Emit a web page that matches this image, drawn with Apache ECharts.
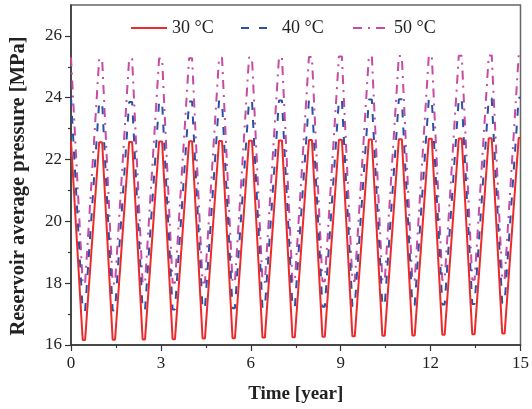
<!DOCTYPE html>
<html>
<head>
<meta charset="utf-8">
<script src="https://cdn.jsdelivr.net/npm/echarts/dist/echarts.min.js"></script>
<style>
  html, body { margin: 0; padding: 0; background: #fff; }
  #chart { width: 532px; height: 409px; }
</style>
</head>
<body>
<div id="chart"></div>
<script>
// Time knots [year]: start of the run, then per cycle the low plateau and the high plateau
const years = [
  0, 0.04,
  0.39, 0.47, 0.94, 1.04,
  1.39, 1.47, 1.94, 2.04,
  2.39, 2.47, 2.94, 3.04,
  3.39, 3.47, 3.94, 4.04,
  4.39, 4.47, 4.94, 5.04,
  5.39, 5.47, 5.94, 6.04,
  6.39, 6.47, 6.94, 7.04,
  7.39, 7.47, 7.94, 8.04,
  8.39, 8.47, 8.94, 9.04,
  9.39, 9.47, 9.94, 10.04,
  10.39, 10.47, 10.94, 11.04,
  11.39, 11.47, 11.94, 12.04,
  12.39, 12.47, 12.94, 13.04,
  13.39, 13.47, 13.94, 14.04,
  14.39, 14.47, 14.94, 15.00
];

// Reservoir average pressure [MPa] at 30 °C
const p30 = [
  22.60, 22.60,
  16.16, 16.16, 22.56, 22.56,
  16.17, 16.17, 22.57, 22.57,
  16.18, 16.18, 22.58, 22.58,
  16.19, 16.19, 22.59, 22.59,
  16.21, 16.21, 22.60, 22.60,
  16.22, 16.22, 22.61, 22.61,
  16.24, 16.24, 22.62, 22.62,
  16.25, 16.25, 22.63, 22.63,
  16.27, 16.27, 22.64, 22.64,
  16.28, 16.28, 22.65, 22.65,
  16.30, 16.30, 22.66, 22.66,
  16.31, 16.31, 22.67, 22.67,
  16.33, 16.33, 22.68, 22.68,
  16.35, 16.35, 22.69, 22.69,
  16.37, 16.37, 22.70, 22.70
];

// Reservoir average pressure [MPa] at 40 °C
const p40 = [
  24.00, 24.00,
  17.10, 17.10, 23.85, 23.85,
  17.12, 17.12, 23.86, 23.86,
  17.13, 17.13, 23.87, 23.87,
  17.15, 17.15, 23.88, 23.88,
  17.17, 17.17, 23.89, 23.89,
  17.19, 17.19, 23.90, 23.90,
  17.20, 17.20, 23.91, 23.91,
  17.22, 17.22, 23.92, 23.92,
  17.24, 17.24, 23.93, 23.93,
  17.26, 17.26, 23.94, 23.94,
  17.28, 17.28, 23.95, 23.95,
  17.29, 17.29, 23.96, 23.96,
  17.31, 17.31, 23.97, 23.97,
  17.33, 17.33, 23.98, 23.98,
  17.35, 17.35, 24.00, 24.00
];

// Reservoir average pressure [MPa] at 50 °C
const p50 = [
  25.30, 25.30,
  17.98, 17.98, 25.25, 25.25,
  17.99, 17.99, 25.26, 25.26,
  18.00, 18.00, 25.27, 25.27,
  18.01, 18.01, 25.28, 25.28,
  18.02, 18.02, 25.29, 25.29,
  18.03, 18.03, 25.30, 25.30,
  18.04, 18.04, 25.31, 25.31,
  18.05, 18.05, 25.32, 25.32,
  18.06, 18.06, 25.33, 25.33,
  18.07, 18.07, 25.34, 25.34,
  18.08, 18.08, 25.35, 25.35,
  18.09, 18.09, 25.36, 25.36,
  18.10, 18.10, 25.36, 25.36,
  18.11, 18.11, 25.37, 25.37,
  18.12, 18.12, 25.38, 25.38
];

const seriesNames = ['30 °C', '40 °C', '50 °C'];
const yMajorTicks = [16, 18, 20, 22, 24, 26];
const yMinorTicks = [17, 19, 21, 23, 25];

const FONT = "'Liberation Serif', 'Times New Roman', serif";
const AXIS_COLOR = '#333';

function pairs(xs, ys) {
  return xs.map((x, i) => [x, ys[i]]);
}

const chart = echarts.init(document.getElementById('chart'), null, { renderer: 'canvas' });

// Legend entries show only the line sample (no marker in the middle)
const legendBase = {
  top: 19,
  itemWidth: 36,
  itemHeight: 18,
  itemGap: 0,
  padding: 0,
  itemStyle: { opacity: 0 },
  textStyle: { fontFamily: FONT, fontSize: 18, color: '#222' }
};

chart.setOption({
  animation: false,
  backgroundColor: '#fff',
  grid: {
    left: 68, right: 10, top: 5, bottom: 62,
    show: true, borderColor: '#666', borderWidth: 1.5, backgroundColor: 'transparent'
  },
  legend: [
    Object.assign({}, legendBase, { left: 130, data: [seriesNames[0]] }),
    Object.assign({}, legendBase, { left: 240, data: [seriesNames[1]] }),
    Object.assign({}, legendBase, { left: 352, data: [seriesNames[2]] })
  ],
  xAxis: {
    type: 'value',
    min: 0, max: 15, interval: 3,
    name: 'Time [year]',
    nameLocation: 'middle',
    nameGap: 40,
    nameTextStyle: { fontFamily: FONT, fontSize: 19, fontWeight: 'bold', color: '#222' },
    axisLine: { show: true, onZero: false, lineStyle: { color: AXIS_COLOR, width: 1.5 } },
    axisTick: { show: true, inside: false, length: 6, lineStyle: { color: AXIS_COLOR, width: 1.2 } },
    minorTick: { show: true, splitNumber: 2, length: 3, lineStyle: { color: AXIS_COLOR, width: 1.2 } },
    axisLabel: { fontFamily: FONT, fontSize: 17, color: '#222', margin: 10 },
    splitLine: { show: false }
  },
  yAxis: [
    {
      type: 'value',
      min: 16, max: 27,
      name: 'Reservoir average pressure [MPa]',
      nameLocation: 'middle',
      nameGap: 42,
      nameTextStyle: { fontFamily: FONT, fontSize: 20.5, fontWeight: 'bold', color: '#222',
                       padding: [0, 22, 0, 0] },
      axisLine: { show: true, onZero: false, lineStyle: { color: AXIS_COLOR, width: 1.5 } },
      axisTick: { show: true, inside: false, length: 6, customValues: yMajorTicks,
                  lineStyle: { color: AXIS_COLOR, width: 1.2 } },
      axisLabel: { fontFamily: FONT, fontSize: 17, color: '#222', margin: 9, customValues: yMajorTicks },
      splitLine: { show: false }
    },
    {
      type: 'value',
      min: 16, max: 27,
      position: 'left',
      axisLine: { show: false },
      axisTick: { show: true, inside: false, length: 3, customValues: yMinorTicks,
                  lineStyle: { color: AXIS_COLOR, width: 1.2 } },
      axisLabel: { show: false },
      splitLine: { show: false }
    }
  ],
  series: [
    {
      name: seriesNames[0], type: 'line', data: pairs(years, p30), showSymbol: false, symbol: 'none',
      lineStyle: { color: '#ec2a2a', width: 2 }, itemStyle: { color: '#ec2a2a' }, z: 3
    },
    {
      name: seriesNames[1], type: 'line', data: pairs(years, p40), showSymbol: false, symbol: 'none',
      lineStyle: { color: '#2d4fa6', width: 2, type: [8, 10] }, itemStyle: { color: '#2d4fa6' }, z: 2
    },
    {
      name: seriesNames[2], type: 'line', data: pairs(years, p50), showSymbol: false, symbol: 'none',
      lineStyle: { color: '#c84aa2', width: 2, type: [9, 6, 2, 6] }, itemStyle: { color: '#c84aa2' }, z: 1
    }
  ]
});
</script>
</body>
</html>
